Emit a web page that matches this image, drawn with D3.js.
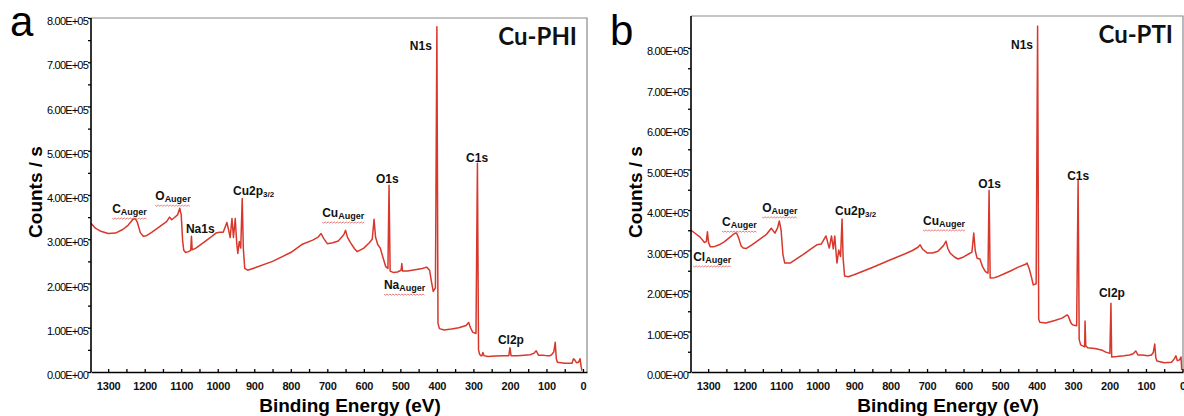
<!DOCTYPE html>
<html>
<head>
<meta charset="utf-8">
<script src="https://cdnjs.cloudflare.com/ajax/libs/d3/7.8.5/d3.min.js"></script>
<style>
  body { margin: 0; background: #fff; }
  svg { display: block; font-family: "Liberation Sans", Arial, sans-serif; }
  .ytick text { font-size: 11px; letter-spacing: -0.8px; fill: #000; }
  .xtick text { font-size: 11px; font-weight: bold; letter-spacing: -0.2px; fill: #111; }
  .peak { font-size: 12px; font-weight: bold; fill: #111; }
</style>
</head>
<body>
<script>

// survey spectra: binding energy (eV) and counts / s
var phiEnergy = [1347,1335,1320,1300,1280,1260,1245,1232,1226,1220,1212,1204,1195,1180,1160,1140,1132,1126,1120,1110,
  1104,1100,1096,1093,1088,1080,1074,1072,1070,1060,1040,1020,1005,995,985,975,970,966,961,957,952,948,945,941,937,933,
  930,926,918,900,850,800,770,740,725,717,710,700,685,670,655,650,645,637,625,618,600,585,577,572,568,562,555,548,540,
  534,531,528,520,508,498,496,494,480,460,440,428,420,415,410,404,400,397,393,380,360,340,320,313,308,302,293,289,286,
  283,280,277,274,271,260,240,220,203,200,197,180,160,145,135,128,122,110,100,90,85,80,76,73,70,50,30,26,23,18,12,8,5,3];
var phiCounts = [3.36e5,3.25e5,3.18e5,3.13e5,3.14e5,3.22e5,3.32e5,3.45e5,3.47e5,3.38e5,3.15e5,3.07e5,3.08e5,3.16e5,3.28e5,
  3.40e5,3.50e5,3.44e5,3.48e5,3.55e5,3.70e5,3.55e5,2.95e5,2.75e5,2.70e5,2.72e5,2.75e5,3.07e5,2.76e5,2.80e5,2.92e5,3.04e5,
  3.14e5,3.16e5,3.16e5,3.38e5,3.20e5,3.04e5,3.47e5,3.04e5,3.47e5,2.90e5,2.68e5,2.95e5,2.80e5,3.92e5,2.80e5,2.34e5,2.30e5,
  2.35e5,2.50e5,2.70e5,2.88e5,2.98e5,3.05e5,3.13e5,3.02e5,2.90e5,2.92e5,2.96e5,3.10e5,3.20e5,3.05e5,2.93e5,2.78e5,2.72e5,
  2.80e5,2.92e5,3.00e5,3.45e5,3.05e5,2.88e5,2.80e5,2.60e5,2.38e5,2.34e5,4.22e5,2.28e5,2.25e5,2.26e5,2.30e5,2.45e5,2.28e5,
  2.28e5,2.31e5,2.34e5,2.37e5,2.30e5,2.05e5,1.82e5,1.90e5,7.80e5,1.10e5,0.98e5,0.95e5,0.97e5,1.00e5,1.05e5,1.12e5,1.00e5,
  0.90e5,0.87e5,4.72e5,0.50e5,0.40e5,0.37e5,0.37e5,0.44e5,0.37e5,0.35e5,0.36e5,0.37e5,0.37e5,0.55e5,0.37e5,0.37e5,0.38e5,
  0.39e5,0.42e5,0.48e5,0.38e5,0.38e5,0.37e5,0.37e5,0.40e5,0.45e5,0.67e5,0.30e5,0.22e5,0.20e5,0.20e5,0.30e5,0.28e5,0.21e5,
  0.22e5,0.30e5,0.12e5,0.03e5];

var ptiEnergy = [1347,1335,1322,1310,1305,1302,1299,1294,1285,1270,1255,1240,1228,1222,1216,1210,1204,1195,1180,1160,1140,
  1127,1117,1110,1105,1100,1095,1090,1075,1060,1040,1020,1002,990,977,971,968,962,957,953,949,947,942,937,933,930,926,916,
  900,850,800,760,740,725,719,712,700,685,670,655,648,643,637,625,615,600,585,577,572,568,563,555,548,540,533,530,527,515,
  508,490,470,450,430,426,420,414,409,401,397,394,391,375,350,330,316,313,305,300,290,286,283,279,272,268,267,265,260,240,
  225,218,210,199,196,194,180,160,145,135,128,122,110,95,85,80,76,73,70,50,30,22,18,14,8,4,2];
var ptiCounts = [3.50e5,3.42e5,3.33e5,3.20e5,3.22e5,3.46e5,3.20e5,3.09e5,3.09e5,3.14e5,3.22e5,3.33e5,3.42e5,3.43e5,3.30e5,
  3.12e5,3.06e5,3.05e5,3.14e5,3.27e5,3.40e5,3.55e5,3.43e5,3.55e5,3.73e5,3.50e5,2.90e5,2.69e5,2.69e5,2.78e5,2.90e5,3.03e5,
  3.14e5,3.16e5,3.36e5,3.15e5,3.06e5,3.36e5,3.04e5,3.36e5,2.90e5,2.69e5,3.01e5,2.85e5,3.78e5,2.80e5,2.37e5,2.35e5,2.40e5,
  2.58e5,2.77e5,2.92e5,3.00e5,3.08e5,3.14e5,3.03e5,2.94e5,2.94e5,2.98e5,3.12e5,3.23e5,3.05e5,2.94e5,2.84e5,2.79e5,2.84e5,
  2.92e5,2.96e5,3.43e5,3.00e5,2.81e5,2.79e5,2.60e5,2.48e5,2.44e5,4.49e5,2.32e5,2.33e5,2.35e5,2.42e5,2.50e5,2.59e5,2.66e5,
  2.69e5,2.55e5,2.35e5,2.15e5,2.18e5,8.54e5,1.30e5,1.23e5,1.21e5,1.27e5,1.33e5,1.41e5,1.38e5,1.20e5,1.16e5,1.14e5,4.74e5,
  0.80e5,0.67e5,0.64e5,0.62e5,1.26e5,0.65e5,0.60e5,0.58e5,0.55e5,0.53e5,0.49e5,0.46e5,1.70e5,0.37e5,0.38e5,0.40e5,0.42e5,
  0.45e5,0.52e5,0.42e5,0.42e5,0.40e5,0.42e5,0.48e5,0.69e5,0.35e5,0.27e5,0.23e5,0.24e5,0.33e5,0.40e5,0.28e5,0.30e5,0.37e5,
  0.05e5];

// ticks
var xTicks = [1300,1200,1100,1000,900,800,700,600,500,400,300,200,100,0];
var xMinorTicks = [1250,1150,1050,950,850,750,650,550,450,350,250,150,50];
var yTicks = [0,1e5,2e5,3e5,4e5,5e5,6e5,7e5,8e5];
var yMinorTicks = [0.5e5,1.5e5,2.5e5,3.5e5,4.5e5,5.5e5,6.5e5,7.5e5];
var yTickLabels = ["0.00E+00","1.00E+05","2.00E+05","3.00E+05","4.00E+05","5.00E+05","6.00E+05","7.00E+05","8.00E+05"];

// peak annotations (text, subscript, energy and count where the text sits, red wavy spell-check line)
var phiLabels = [
  {t: "C", s: "Auger", e: 1289, c: 3.59e5, wavy: true},
  {t: "O", s: "Auger", e: 1171, c: 3.88e5, wavy: true},
  {t: "Na1s", e: 1087, c: 3.13e5},
  {t: "Cu2p", s: "3/2", e: 958, c: 3.99e5},
  {t: "Cu", s: "Auger", e: 714, c: 3.50e5, wavy: true},
  {t: "O1s", e: 567, c: 4.26e5},
  {t: "N1s", e: 474, c: 7.27e5},
  {t: "C1s", e: 320, c: 4.74e5},
  {t: "Na", s: "Auger", e: 545, c: 1.87e5, wavy: true},
  {t: "Cl2p", e: 233, c: 0.64e5}
];
var ptiLabels = [
  {t: "Cl", s: "Auger", e: 1341, c: 2.74e5, wavy: true},
  {t: "C", s: "Auger", e: 1262, c: 3.60e5, wavy: true},
  {t: "O", s: "Auger", e: 1152, c: 3.95e5, wavy: true},
  {t: "Cu2p", s: "3/2", e: 952, c: 3.88e5},
  {t: "Cu", s: "Auger", e: 711, c: 3.63e5, wavy: true},
  {t: "O1s", e: 560, c: 4.54e5},
  {t: "N1s", e: 470, c: 7.98e5},
  {t: "C1s", e: 316, c: 4.74e5},
  {t: "Cl2p", e: 229, c: 1.85e5}
];

var W = 1184, H = 416;
var lineColor = "#d8372c";

var svg = d3.select("body").append("svg")
  .attr("width", W)
  .attr("height", H);

var panels = [
  {letter: "a", name: "Cu-PHI", energy: phiEnergy, counts: phiCounts, labels: phiLabels,
   left: 91, right: 587, top: 18, bottom: 372, eLeft: 1347, eRight: -11, yMax: 8e5, letterY: 36},
  {letter: "b", name: "Cu-PTI", energy: ptiEnergy, counts: ptiCounts, labels: ptiLabels,
   left: 691, right: 1183, top: 16, bottom: 372, eLeft: 1347, eRight: -1.5, yMax: 8.79e5, letterY: 45}
];

panels.forEach(drawPanel);

function drawPanel(p) {
  var x = d3.scaleLinear().domain([p.eLeft, p.eRight]).range([p.left, p.right]);
  var y = d3.scaleLinear().domain([0, p.yMax]).range([p.bottom, p.top]);
  var g = svg.append("g");

  // grey frame on top and right
  g.append("path")
    .attr("d", "M" + p.left + "," + p.top + "H" + p.right + "V" + p.bottom)
    .attr("fill", "none")
    .attr("stroke", "#8a8a8a")
    .attr("stroke-width", 1.2);

  // spectrum
  var pts = p.energy.map(function(e, i) { return [e, p.counts[i]]; });
  var line = d3.line()
    .x(function(d) { return x(d[0]); })
    .y(function(d) { return y(d[1]); });
  g.append("path")
    .datum(pts)
    .attr("d", line)
    .attr("fill", "none")
    .attr("stroke", lineColor)
    .attr("stroke-width", 1.5)
    .attr("stroke-linejoin", "round");

  // x axis
  var xa = g.append("g")
    .attr("class", "xtick")
    .attr("transform", "translate(0," + p.bottom + ")")
    .call(d3.axisBottom(x).tickValues(xTicks).tickSizeInner(-3).tickSizeOuter(0)
      .tickPadding(10).tickFormat(d3.format("d")));
  xa.select(".domain").attr("stroke-width", 1.6);
  xa.selectAll(".tick line").attr("stroke-width", 1.3);
  var xm = g.append("g")
    .attr("transform", "translate(0," + p.bottom + ")")
    .call(d3.axisBottom(x).tickValues(xMinorTicks).tickSize(-3).tickFormat(""));
  xm.select(".domain").remove();
  xm.selectAll(".tick line").attr("stroke-width", 1.3);

  // y axis
  var ya = g.append("g")
    .attr("class", "ytick")
    .attr("transform", "translate(" + p.left + ",0)")
    .call(d3.axisLeft(y).tickValues(yTicks).tickSizeInner(3).tickSizeOuter(0).tickPadding(0)
      .tickFormat(function(d, i) { return yTickLabels[i]; }));
  ya.select(".domain").attr("d", "M0," + p.bottom + "V" + p.top).attr("stroke-width", 1.6);
  ya.selectAll(".tick text").attr("dy", "0.6em");
  ya.selectAll(".tick line").attr("stroke-width", 1.3);
  var ym = g.append("g")
    .attr("transform", "translate(" + p.left + ",0)")
    .call(d3.axisLeft(y).tickValues(yMinorTicks).tickSize(3).tickFormat(""));
  ym.select(".domain").remove();
  ym.selectAll(".tick line").attr("stroke-width", 1.3);

  // axis titles
  g.append("text")
    .attr("x", (p.left + p.right) / 2 + 11)
    .attr("y", 412)
    .attr("text-anchor", "middle")
    .style("font-size", "19px")
    .style("font-weight", "bold")
    .text("Binding Energy (eV)");
  g.append("text")
    .attr("transform", "translate(" + (p.left - 49) + ",192) rotate(-90)")
    .attr("text-anchor", "middle")
    .style("font-size", "19px")
    .style("font-weight", "bold")
    .text("Counts / s");

  // panel letter and sample name
  g.append("text")
    .attr("x", p.left - 81)
    .attr("y", p.letterY)
    .style("font-size", "42px")
    .text(p.letter);
  g.append("text")
    .attr("x", p.right - 10)
    .attr("y", p.top + 27)
    .attr("text-anchor", "end")
    .style("font-family", "Lato, 'Open Sans', sans-serif")
    .style("font-size", "24px")
    .style("font-weight", "bold")
    .style("fill", "#111")
    .text(p.name);

  // peak labels
  p.labels.forEach(function(l) {
    var lx = x(l.e), ly = y(l.c);
    var t = g.append("text")
      .attr("class", "peak")
      .attr("x", lx)
      .attr("y", ly);
    t.append("tspan").text(l.t);
    if (l.s) {
      t.append("tspan")
        .attr("dy", 2)
        .style("font-size", l.s == "3/2" ? "8px" : "9px")
        .text(l.s);
    }
    if (l.wavy) {
      var w = t.node().getComputedTextLength();
      var d = "M" + lx + "," + (ly + 5);
      for (var k = 1; lx + k * 1.5 <= lx + w; k++) {
        d += "L" + (lx + k * 1.5) + "," + (ly + 5 + (k % 2 ? 1 : -0.2));
      }
      g.append("path")
        .attr("d", d)
        .attr("fill", "none")
        .attr("stroke", "#e0605a")
        .attr("stroke-width", 0.8);
    }
  });
}

</script>
</body>
</html>
